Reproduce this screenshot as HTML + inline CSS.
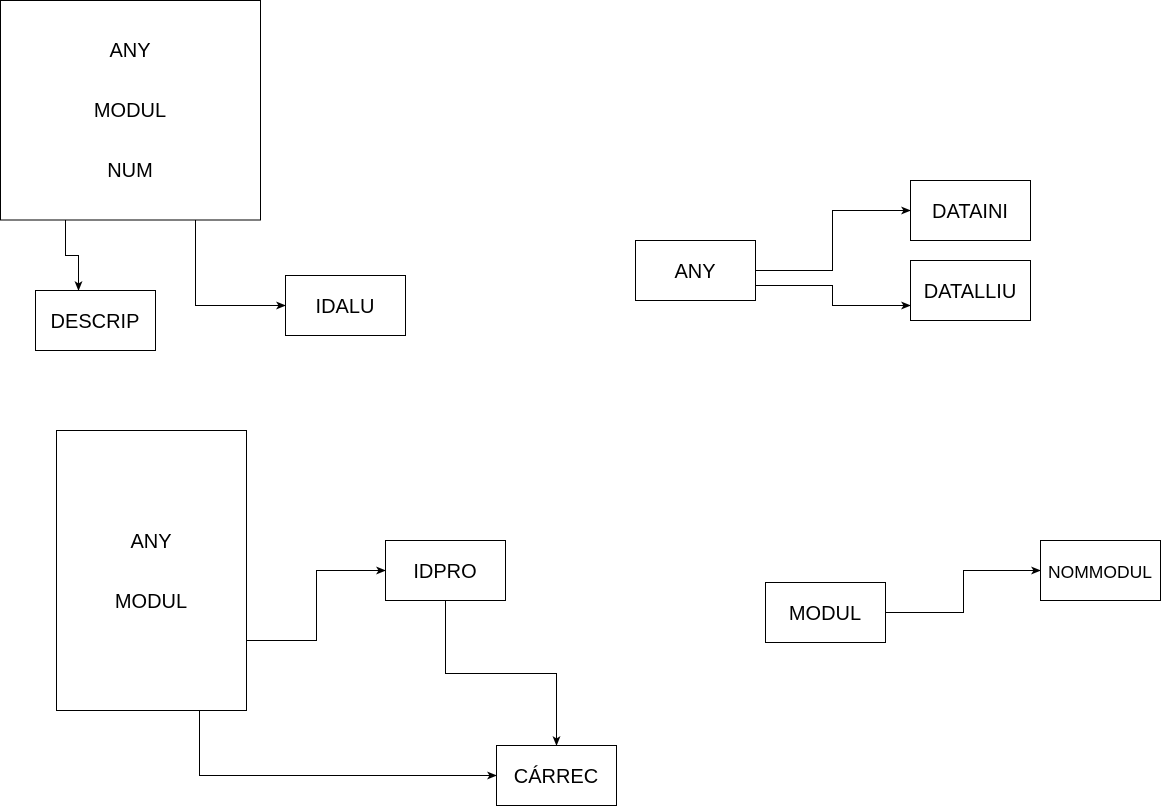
<!DOCTYPE html>
<html><head><meta charset="utf-8"><style>
html,body{margin:0;padding:0;background:#fff;}
svg{display:block;}
text{font-family:"Liberation Sans",sans-serif;font-size:20px;fill:#000;text-anchor:middle;dominant-baseline:central;}
</style></head><body>
<svg width="1161" height="806" viewBox="0 0 1161 806" xmlns="http://www.w3.org/2000/svg">
<defs><marker id="a" markerWidth="10" markerHeight="8" refX="9" refY="4" orient="auto" markerUnits="userSpaceOnUse"><path d="M0,0 L10,4 L0,8 L2.5,4 z" fill="#000"/></marker></defs>
<g fill="#fff" stroke="#000" stroke-width="1">
<rect x="0.5" y="0.5" width="260" height="219.5"/>
<rect x="35.5" y="290.5" width="120" height="60"/>
<rect x="285.5" y="275.5" width="120" height="60"/>
<rect x="635.5" y="240.5" width="120" height="60"/>
<rect x="910.5" y="180.5" width="120" height="60"/>
<rect x="910.5" y="260.5" width="120" height="60"/>
<rect x="56.5" y="430.5" width="190" height="280"/>
<rect x="385.5" y="540.5" width="120" height="60"/>
<rect x="496.5" y="745.5" width="120" height="60"/>
<rect x="765.5" y="582.5" width="120" height="60"/>
<rect x="1040.5" y="540.5" width="120" height="60"/>
</g>
<g fill="none" stroke="#000" stroke-width="1" marker-end="url(#a)">
<path d="M65.5,220 V255.5 H78.5 V290"/>
<path d="M195.5,220 V305.5 H285"/>
<path d="M755,270.5 H832.5 V210.5 H910"/>
<path d="M755,285.5 H832.5 V305.5 H910"/>
<path d="M246,640.5 H316.5 V570.5 H385"/>
<path d="M445.5,600 V673.5 H556.5 V745"/>
<path d="M199.5,710 V775.5 H496"/>
<path d="M885,612.5 H963.5 V570.5 H1040"/>
</g>
<text x="130" y="51">ANY</text>
<text x="130" y="111">MODUL</text>
<text x="130" y="171">NUM</text>
<text x="95" y="322">DESCRIP</text>
<text x="345" y="307">IDALU</text>
<text x="695" y="272">ANY</text>
<text x="970" y="212">DATAINI</text>
<text x="970" y="292">DATALLIU</text>
<text x="151" y="542">ANY</text>
<text x="151" y="602">MODUL</text>
<text x="445" y="572">IDPRO</text>
<text x="556" y="777">CÁRREC</text>
<text x="825" y="614">MODUL</text>
<text x="1100" y="572" style="font-size:17.5px">NOMMODUL</text>
</svg>
</body></html>
